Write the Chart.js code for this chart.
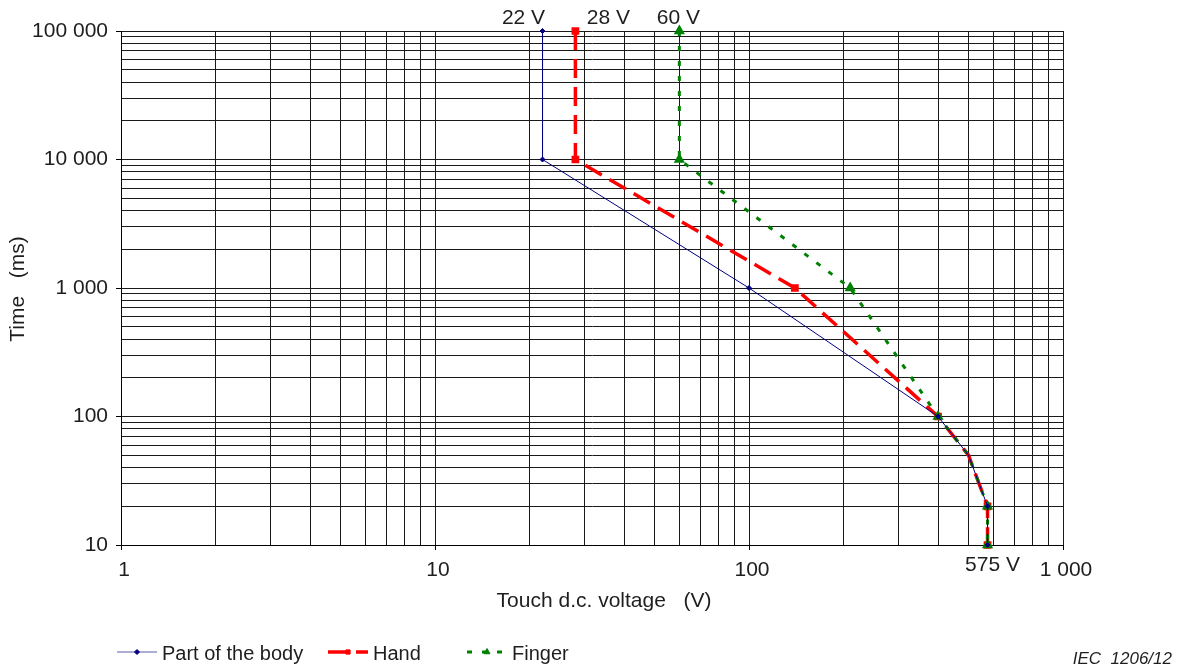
<!DOCTYPE html>
<html>
<head>
<meta charset="utf-8">
<title>Touch d.c. voltage / time</title>
<script src="https://cdn.jsdelivr.net/npm/chart.js@4.4.1/dist/chart.umd.min.js"></script>
<style>
    html, body { margin: 0; padding: 0; background: #fff; }
    #wrap { width: 1181px; height: 670px; position: relative; }
</style>
</head>
<body>
<div id="wrap"><canvas id="touchChart"></canvas></div>
<script>
// touch voltage (V) against time (ms) for each contact case
const timeMs        = [100000, 10000, 1000, 100, 50, 20, 10];
const bodyVoltage   = [22, 22, 100, 400, 500, 575, 575];
const handVoltage   = [28, 28, 140, 400, 500, 575, 575];
const fingerVoltage = [60, 60, 210, 400, 500, 575, 575];

const seriesNames = ['Part of the body', 'Hand', 'Finger'];

const voltageTicks      = [1, 10, 100, 1000];
const voltageTickLabels = ['1', '10', '100', '1 000'];
const timeTicks         = [10, 100, 1000, 10000, 100000];
const timeTickLabels    = ['10', '100', '1 000', '10 000', '100 000'];

const limitVoltages = [22, 28, 60, 575];
const limitLabels   = ['22 V', '28 V', '60 V', '575 V'];

const FONT = '"Liberation Sans", Arial, sans-serif';
const TEXT = '#1e1e1e';

// no marker on the 50 ms vertex
const markerRadius = r => timeMs.map(t => (t === 50 ? 0 : r));

const toPoints = volts => volts.map((v, i) => ({ x: v, y: timeMs[i] }));

// every 1..9 x 10^n line between min and max
function logGrid(scale) {
    const out = [];
    for (let dec = scale.min; dec < scale.max; dec *= 10) {
        for (let m = 1; m < 10; m++) out.push({ value: m * dec });
    }
    out.push({ value: scale.max });
    scale.ticks = out;
}

const labelFor = (values, labels) => v => {
    const i = values.indexOf(v);
    return i >= 0 ? labels[i] : '';
};

const decadeTick = values => ctx => (values.includes(ctx.tick.value) ? '#000' : 'rgba(0,0,0,0)');

// axis titles, limit labels, legend and figure number
const extrasPlugin = {
    id: 'extras',
    afterDraw(chart) {
        const { ctx, chartArea, scales } = chart;
        ctx.save();
        ctx.fillStyle = TEXT;
        ctx.textBaseline = 'middle';

        // axis titles
        ctx.font = '21px ' + FONT;
        ctx.textAlign = 'center';
        ctx.fillText('Touch d.c. voltage   (V)', 604, 601);
        ctx.save();
        ctx.translate(18, 289);
        ctx.rotate(-Math.PI / 2);
        ctx.fillText('Time   (ms)', 0, 0);
        ctx.restore();

        // limit voltages
        const dx = [-19, 33, -1, 5];
        ctx.font = '21px ' + FONT;
        limitVoltages.forEach((v, i) => {
            const x = scales.x.getPixelForValue(v) + dx[i];
            const y = i === 3 ? chartArea.bottom + 20 : chartArea.top - 13;
            ctx.fillText(limitLabels[i], x, y);
        });

        // legend
        const itemX = [117, 328, 467];
        const ly = 652;
        ctx.font = '20px ' + FONT;
        ctx.textAlign = 'left';
        chart.data.datasets.forEach((ds, k) => {
            const x0 = itemX[k];
            ctx.save();
            ctx.strokeStyle = ds.legendColor || ds.borderColor;
            ctx.lineWidth = ds.borderWidth;
            ctx.setLineDash(ds.borderDash || []);
            ctx.beginPath();
            ctx.moveTo(x0, ly);
            ctx.lineTo(x0 + 40, ly);
            ctx.stroke();
            ctx.setLineDash([]);
            ctx.fillStyle = ds.pointBackgroundColor;
            ctx.strokeStyle = ds.pointBorderColor;
            ctx.lineWidth = 1;
            Chart.helpers.drawPoint(ctx, {
                pointStyle: ds.pointStyle,
                radius: ds.legendRadius,
                rotation: 0,
                borderWidth: 1
            }, x0 + 20, ly);
            ctx.restore();
            ctx.fillText(ds.label, x0 + 45, ly + 2);
        });

        ctx.font = 'italic 17px ' + FONT;
        ctx.textAlign = 'right';
        ctx.fillText('IEC  1206/12', 1172, 659);
        ctx.restore();
    }
};

new Chart(document.getElementById('touchChart').getContext('2d'), {
    type: 'line',
    data: {
        datasets: [{
            label: seriesNames[0],
            data: toPoints(bodyVoltage),
            borderColor: '#000080',
            legendColor: '#5a5ab0',
            borderWidth: 1,
            pointStyle: 'rectRot',
            pointRadius: markerRadius(2.5),
            legendRadius: 2.5,
            pointBackgroundColor: '#000080',
            pointBorderColor: '#000080',
            order: 0
        }, {
            label: seriesNames[1],
            data: toPoints(handVoltage),
            borderColor: '#ff0000',
            borderWidth: 3.5,
            borderDash: [19, 9],
            pointStyle: 'rect',
            pointRadius: markerRadius(3),
            legendRadius: 3,
            pointBackgroundColor: '#ff0000',
            pointBorderColor: '#ff0000',
            order: 2
        }, {
            label: seriesNames[2],
            data: toPoints(fingerVoltage),
            borderColor: '#008000',
            borderWidth: 3,
            borderDash: [5, 10],
            pointStyle: 'triangle',
            pointRadius: markerRadius(3.5),
            legendRadius: 3.5,
            pointBackgroundColor: '#008000',
            pointBorderColor: '#008000',
            order: 1
        }]
    },
    options: {
        responsive: true,
        maintainAspectRatio: false,
        animation: false,
        clip: false,
        layout: { padding: { top: 31, right: 118, bottom: 55, left: 0 } },
        plugins: {
            legend: { display: false },
            tooltip: { enabled: false }
        },
        elements: { line: { tension: 0 } },
        scales: {
            x: {
                type: 'logarithmic',
                min: 1,
                max: 1000,
                afterBuildTicks: logGrid,
                afterFit: s => { s.height = 70; },
                border: { color: '#000', width: 1 },
                grid: {
                    color: '#1a1a1a',
                    lineWidth: 1,
                    tickLength: 5,
                    tickColor: decadeTick(voltageTicks)
                },
                ticks: {
                    autoSkip: false,
                    maxRotation: 0,
                    padding: 8,
                    labelOffset: 3,
                    color: TEXT,
                    font: { family: FONT, size: 21 },
                    callback: labelFor(voltageTicks, voltageTickLabels)
                }
            },
            y: {
                type: 'logarithmic',
                min: 10,
                max: 100000,
                afterBuildTicks: logGrid,
                afterFit: s => { s.width = 121; },
                border: { color: '#000', width: 1 },
                grid: {
                    color: '#1a1a1a',
                    lineWidth: 1,
                    tickLength: 5,
                    tickColor: decadeTick(timeTicks)
                },
                ticks: {
                    autoSkip: false,
                    padding: 8,
                    color: TEXT,
                    font: { family: FONT, size: 21 },
                    callback: labelFor(timeTicks, timeTickLabels)
                }
            }
        }
    },
    plugins: [extrasPlugin]
});
</script>
</body>
</html>
